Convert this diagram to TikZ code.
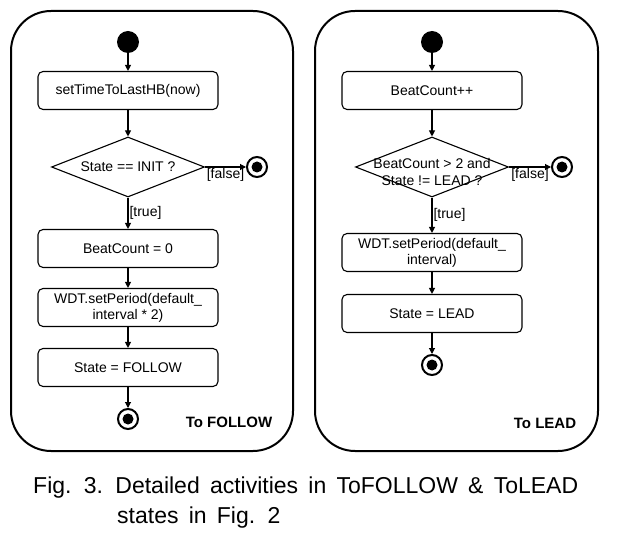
\documentclass[tikz,border=0pt]{standalone}
\usepackage{fontspec}
\setmainfont{Liberation Sans}
\newfontfamily\capfont[WordSpace=1.6]{Liberation Sans}
\usetikzlibrary{shapes.geometric,arrows.meta}
\begin{document}
\begin{tikzpicture}[x=1pt,y=-1pt,
  act/.style={draw, rounded corners=5pt, line width=1.1pt, minimum width=180pt, minimum height=38pt, inner sep=1pt, align=center, font=\fontsize{14}{16}\selectfont},
  dec/.style={draw, diamond, line width=1.1pt, minimum width=153pt, minimum height=60pt, inner sep=0pt},
  frame/.style={draw, line width=2pt, rounded corners=40pt},
  flow/.style={line width=1.1pt, -{Triangle[length=6pt,width=6pt]}},
  startnode/.style={circle, fill, inner sep=0pt, minimum size=22pt},
  endnode/.style={circle, draw, line width=2pt, inner sep=0pt, minimum size=20pt,
    path picture={\fill (path picture bounding box.center) circle (5.5pt);}},
  guard/.style={font=\fontsize{14}{16}\selectfont, inner sep=1pt},
  dectext/.style={font=\fontsize{14}{17}\selectfont, align=center, inner sep=0pt},
  paneltitle/.style={font=\bfseries\fontsize{15}{17}\selectfont, inner sep=0pt},
  captext/.style={font=\capfont\fontsize{23}{28}\selectfont, inner sep=0pt, anchor=base west}
]
\useasboundingbox (0,0) rectangle (619,540);

% frames
\draw[frame] (11,11) rectangle (293,451);
\draw[frame] (315,11) rectangle (598,451);

% ---------- To FOLLOW ----------
\node[startnode] (s1) at (128,42) {};
\node[act] (a1) at (128,90.5) {setTimeToLastHB(now)};
\node[dec] (d1) at (128,167) {};
\node[dectext] (d1t) at (128,167) {State == INIT ?};
\node[endnode] (e1) at (257,167) {};
\node[act] (a2) at (128,248.5) {BeatCount = 0};
\node[act] (a3) at (128,307.5) {WDT.setPeriod(default\_\\interval * 2)};
\node[act] (a4) at (128,367.5) {State = FOLLOW};
\node[endnode] (e2) at (128,419) {};
\node[paneltitle] (t1) at (229,422) {To FOLLOW};

\draw[flow] (s1) -- (a1);
\draw[flow] (a1) -- (d1.north);
\draw[flow] (d1.east) -- node[guard, below] {[false]} (e1);
\draw[flow] (d1.south) -- node[guard, right] {[true]} (a2);
\draw[flow] (a2) -- (a3);
\draw[flow] (a3) -- (a4);
\draw[flow] (a4) -- (e2);

% ---------- To LEAD ----------
\node[startnode] (s2) at (432,42) {};
\node[act] (b1) at (432,90.5) {BeatCount++};
\node[dec] (d2) at (432,167) {};
\node[dectext] (d2t) at (432,172) {BeatCount > 2 and\\State != LEAD ?};
\node[endnode] (e3) at (562,167) {};
\node[act] (b2) at (432,252.5) {WDT.setPeriod(default\_\\interval)};
\node[act] (b3) at (432,313.5) {State = LEAD};
\node[endnode] (e4) at (432,365) {};
\node[paneltitle] (t2) at (545,423) {To LEAD};

\draw[flow] (s2) -- (b1);
\draw[flow] (b1) -- (d2.north);
\draw[flow] (d2.east) -- node[guard, below] {[false]} (e3);
\draw[flow] (d2.south) -- node[guard, right] {[true]} (b2);
\draw[flow] (b2) -- (b3);
\draw[flow] (b3) -- (e4);

% caption
\node[captext] (cap1) at (33,493) {Fig. 3. Detailed activities in ToFOLLOW \& ToLEAD};
\node[captext] (cap2) at (117,523) {states in Fig. 2};
\end{tikzpicture}
\end{document}
